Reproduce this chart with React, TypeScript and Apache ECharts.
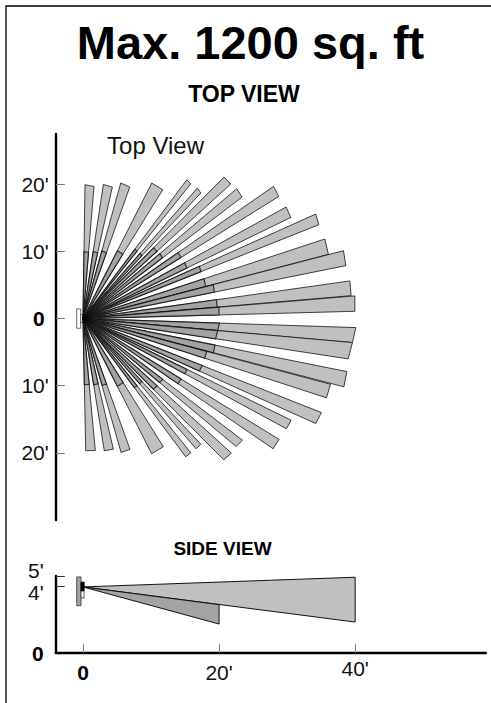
import React, { useEffect, useRef } from "react";
import * as echarts from "echarts";

const titleMain = "Max. 1200 sq. ft";
const titleTop = "TOP VIEW";
const titleTopInner = "Top View";
const titleSide = "SIDE VIEW";

// Top view: far corners of each detection beam, feet [x1, y1, x2, y2]
const upperBeams = [
  [0.29, 19.94, 1.62, 19.69],
  [2.99, 19.98, 4.31, 19.6],
  [5.54, 20.19, 6.87, 19.6],
  [10.1, 20.19, 11.72, 19.2],
  [15.25, 20.68, 15.84, 20.09],
  [16.81, 19.45, 17.31, 18.71],
  [20.74, 21.09, 21.72, 20.04],
  [22.6, 19.35, 23.38, 18.11],
  [27.99, 19.69, 28.78, 18.2],
  [29.85, 16.62, 30.54, 15.07],
  [34.22, 15.58, 34.66, 13.99],
  [35.54, 11.86, 36.07, 9.57],
  [38.28, 10.12, 38.63, 7.89],
  [39.22, 5.61, 39.41, 3.42],
  [39.96, 3.38, 39.96, 1.09],
];
const lowerBeams = [
  [40.1, -1.34, 39.6, -3.57],
  [39.6, -3.57, 38.97, -6.0],
  [38.78, -7.89, 38.34, -10.16],
  [36.37, -9.78, 35.78, -11.8],
  [35.04, -13.99, 34.21, -15.63],
  [30.59, -15.13, 29.9, -16.41],
  [28.82, -18.0, 27.94, -19.39],
  [23.43, -18.11, 22.5, -19.05],
  [21.81, -20.04, 20.68, -21.03],
  [17.31, -18.71, 16.62, -19.39],
  [15.84, -19.99, 15.09, -20.58],
  [11.81, -19.09, 10.09, -20.13],
  [6.91, -19.49, 5.59, -19.94],
  [4.46, -19.45, 3.13, -19.69],
  [1.81, -19.64, 0.4, -19.69],
];
const innerZoneShare = 0.5;

// Side view: [range, top height, bottom height], feet
const sideApexHeight = 4.29;
const sideBeams = [
  [40, 4.92, 2.01],
  [20, 3.14, 1.88],
];

// Sensor outline, feet [x0, y0, x1, y1]
const topBody = [[-0.93, 1.44, -0.34, -1.44]];
const topLens = [[-0.34, 0.6, 0.04, -0.6]];
const sideBody = [[-0.93, 4.94, -0.29, 3.07]];
const sideBracket = [[-0.29, 4.61, 0.15, 3.57]];
const sideLens = [[-0.29, 4.58, 0.15, 4.03]];

const topYTicks = [-20, -10, 0, 10, 20];
const sideXTicks = [0, 20, 40];
const sideYTicks = [4.35, 5];
const sideYLabelValues = [0, 3.9, 5];
const sideYLabels = ["{z|0}", "4'", "{u|5'}"];

const OUTER = "#c0c0c0";
const INNER = "#a3a3a3";
const EDGE = "#111111";
const SOFT_EDGE = "rgba(0,0,0,0.72)";
const FONT = "'Liberation Sans', Arial, sans-serif";

function beamSeries(rows: number[][]) {
  return {
    type: "custom",
    xAxisIndex: 0,
    yAxisIndex: 0,
    clip: false,
    silent: true,
    encode: { x: [0, 2], y: [1, 3] },
    data: rows,
    renderItem: (_p: any, api: any) => {
      const x1 = api.value(0), y1 = api.value(1), x2 = api.value(2), y2 = api.value(3);
      const k = innerZoneShare;
      return {
        type: "group",
        children: [
          {
            type: "polygon",
            shape: { points: [api.coord([0, 0]), api.coord([x1, y1]), api.coord([x2, y2])] },
            style: { fill: OUTER, stroke: SOFT_EDGE, lineWidth: 1 },
          },
          {
            type: "polygon",
            shape: { points: [api.coord([0, 0]), api.coord([x1 * k, y1 * k]), api.coord([x2 * k, y2 * k])] },
            style: { fill: INNER, stroke: SOFT_EDGE, lineWidth: 1.2 },
          },
        ],
      };
    },
  };
}

function sideSeries(rows: number[][]) {
  return {
    type: "custom",
    xAxisIndex: 1,
    yAxisIndex: 1,
    silent: true,
    encode: { x: 0, y: [1, 2] },
    data: rows,
    renderItem: (p: any, api: any) => ({
      type: "polygon",
      shape: {
        points: [
          api.coord([0, sideApexHeight]),
          api.coord([api.value(0), api.value(1)]),
          api.coord([api.value(0), api.value(2)]),
        ],
      },
      style: { fill: p.dataIndex === 0 ? OUTER : INNER, stroke: EDGE, lineWidth: 1 },
    }),
  };
}

function boxSeries(rows: number[][], axis: number, fill: string, stroke: string) {
  return {
    type: "custom",
    xAxisIndex: axis,
    yAxisIndex: axis,
    clip: false,
    silent: true,
    encode: { x: [0, 2], y: [1, 3] },
    data: rows,
    renderItem: (_p: any, api: any) => {
      const a = api.coord([api.value(0), api.value(1)]);
      const b = api.coord([api.value(2), api.value(3)]);
      return {
        type: "rect",
        shape: { x: a[0], y: a[1], width: b[0] - a[0], height: b[1] - a[1] },
        style: { fill, stroke, lineWidth: 0.8 },
      };
    },
  };
}

const option: any = {
  animation: false,
  backgroundColor: "#ffffff",
  title: [
    { text: titleMain, left: 245.5, top: 14, textAlign: "center", textStyle: { fontFamily: FONT, fontWeight: "bold", fontSize: 47, color: "#000" } },
    { text: titleTop, left: 239, top: 77.5, textAlign: "center", textStyle: { fontFamily: FONT, fontWeight: "bold", fontSize: 23, color: "#000" } },
    { text: titleTopInner, left: 150.5, top: 128, textAlign: "center", textStyle: { fontFamily: FONT, fontWeight: "normal", fontSize: 24, color: "#111" } },
    { text: titleSide, left: 217.5, top: 533.5, textAlign: "center", textStyle: { fontFamily: FONT, fontWeight: "bold", fontSize: 19, color: "#000" } },
  ],
  grid: [
    { left: 55.8, top: 134, width: 430, height: 386 },
    { left: 55.8, top: 576, width: 430, height: 77 },
  ],
  xAxis: [
    { type: "value", gridIndex: 0, min: -4, max: 59.2, show: false },
    {
      type: "value",
      gridIndex: 1,
      min: -4,
      max: 59.2,
      splitLine: { show: false },
      axisLine: { show: true, onZero: false, lineStyle: { color: "#000", width: 2.4 } },
      axisTick: { show: true, inside: true, length: 9, customValues: sideXTicks, lineStyle: { color: "#777", width: 1 } },
      axisLabel: {
        show: true,
        margin: 5,
        customValues: sideXTicks,
        fontFamily: FONT,
        fontSize: 21,
        color: "#111",
        formatter: (v: number) => (v === 0 ? "{z|0}" : v === 40 ? `${v}'` : `{p|${v}'}`),
        rich: {
          z: { fontFamily: FONT, fontSize: 21, fontWeight: "bold", color: "#000", padding: [4, 0, 0, 0] },
          p: { fontFamily: FONT, fontSize: 21, color: "#111", padding: [4, 0, 0, 0] },
        },
      },
    },
  ],
  yAxis: [
    {
      type: "value",
      gridIndex: 0,
      min: -30,
      max: 27.5,
      splitLine: { show: false },
      axisLine: { show: true, onZero: false, lineStyle: { color: "#000", width: 2.4 } },
      axisTick: { show: true, inside: true, length: 9, customValues: topYTicks, lineStyle: { color: "#777", width: 1 } },
      axisLabel: {
        show: true,
        margin: 7,
        customValues: topYTicks,
        fontFamily: FONT,
        fontSize: 21,
        color: "#111",
        formatter: (v: number) => (v === 0 ? "{z|0}" : `${Math.abs(v)}'`),
        rich: { z: { fontFamily: FONT, fontSize: 21, fontWeight: "bold", color: "#000", padding: [0, 4, 0, 0] } },
      },
    },
    {
      type: "value",
      gridIndex: 1,
      min: 0,
      max: 5,
      splitLine: { show: false },
      axisLine: { show: true, onZero: false, lineStyle: { color: "#000", width: 2.4 } },
      axisTick: { show: true, inside: true, length: 9, customValues: sideYTicks, lineStyle: { color: "#333", width: 1 } },
      axisLabel: {
        show: true,
        margin: 12,
        customValues: sideYLabelValues,
        showMinLabel: true,
        showMaxLabel: true,
        hideOverlap: false,
        fontFamily: FONT,
        fontSize: 21,
        color: "#111",
        formatter: (v: number) => sideYLabels[sideYLabelValues.indexOf(v)],
        rich: {
          z: { fontFamily: FONT, fontSize: 21, fontWeight: "bold", color: "#000" },
          u: { fontFamily: FONT, fontSize: 21, color: "#111", padding: [0, 0, 12, 0] },
        },
      },
    },
  ],
  graphic: [
    {
      type: "polyline",
      shape: { points: [[6, 703], [6, 6], [491, 6]] },
      style: { fill: "none", stroke: "#000", lineWidth: 1.3 },
    },
  ],
  series: [
    boxSeries(topBody, 0, "#ffffff", "#444"),
    boxSeries(topLens, 0, "#ffffff", "#444"),
    beamSeries([...upperBeams, ...lowerBeams]),
    sideSeries(sideBeams),
    boxSeries(sideBody, 1, "#a3a3a3", "#333"),
    boxSeries(sideBracket, 1, "#ffffff", "#333"),
    boxSeries(sideLens, 1, "#000000", "#000"),
  ],
};

export default function App() {
  const ref = useRef<HTMLDivElement>(null);
  useEffect(() => {
    const chart = echarts.init(ref.current!, undefined, { renderer: "svg" });
    chart.setOption(option);
    return () => chart.dispose();
  }, []);
  return <div ref={ref} style={{ position: "absolute", left: 0, top: 0, width: 491, height: 703 }} />;
}
